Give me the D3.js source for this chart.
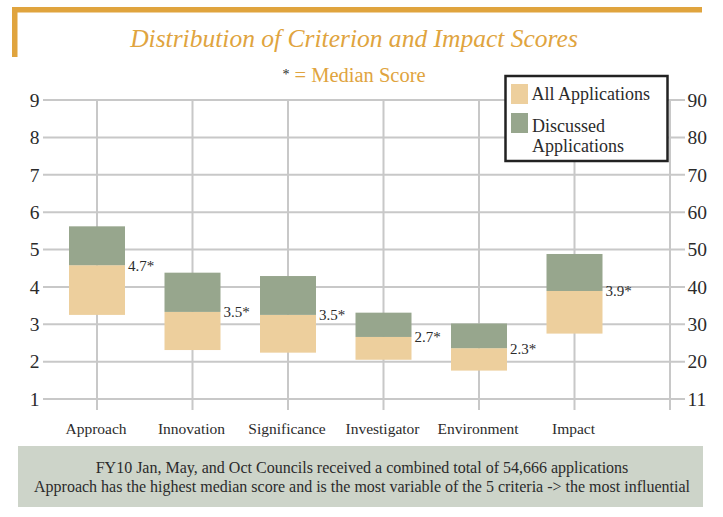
<!DOCTYPE html>
<html>
<head>
<meta charset="utf-8">
<script src="https://cdn.jsdelivr.net/npm/d3@7"></script>
<style>
  html, body { margin: 0; padding: 0; background: #ffffff; }
  svg { display: block; }
  svg text { font-family: "Liberation Serif", "Tinos", "Times New Roman", "DejaVu Serif", serif !important; }
</style>
</head>
<body>
<svg id="chart" width="723" height="517"></svg>
<script>
// ---- data ----
const categories = ["Approach", "Innovation", "Significance", "Investigator", "Environment", "Impact"];
const allLow      = [3.25, 2.31, 2.24, 2.05, 1.76, 2.75];   // bottom of "All Applications"
const medianScore = [4.58, 3.33, 3.25, 2.66, 2.36, 3.89];   // boundary between the two bands
const discussedHigh = [5.62, 4.38, 4.29, 3.31, 3.02, 4.88]; // top of "Discussed Applications"
const medianLabels = ["4.7*", "3.5*", "3.5*", "2.7*", "2.3*", "3.9*"];
const leftTicks  = [1, 2, 3, 4, 5, 6, 7, 8, 9];
const rightTickLabels = ["11", "20", "30", "40", "50", "60", "70", "80", "90"];
const footerLines = [
  "FY10 Jan, May, and Oct Councils received a combined total of 54,666 applications",
  "Approach has the highest median score and is the most variable of the 5 criteria -> the most influential"
];

// ---- styles ----
const gold = "#e0a43e";
const beige = "#edcf9d";
const green = "#97a68d";
const grid = "#c8c8c8";
const ink = "#2b2b2b";

const svg = d3.select("#chart");

// fit helper: scale font so the text spans a target width
function fitWidth(sel, target) {
  const node = sel.node();
  const w = node.getComputedTextLength();
  if (w > 0) {
    const fs = parseFloat(sel.attr("font-size"));
    sel.attr("font-size", fs * target / w);
  }
  return parseFloat(sel.attr("font-size"));
}

// decorative gold frame
svg.append("rect").attr("x", 12).attr("y", 7).attr("width", 690).attr("height", 5.5).attr("fill", gold);
svg.append("rect").attr("x", 12).attr("y", 7).attr("width", 5.5).attr("height", 50).attr("fill", gold);

// title
const title = svg.append("text").attr("x", 354).attr("y", 47).attr("text-anchor", "middle")
  .attr("font-style", "italic").attr("font-size", 25.5).attr("fill", gold)
  .text("Distribution of Criterion and Impact Scores");
fitWidth(title, 448);
const sub = svg.append("text").attr("x", 354).attr("y", 82).attr("text-anchor", "middle")
  .attr("font-size", 20.5).attr("fill", gold);
sub.append("tspan").attr("fill", ink).attr("font-size", 14).attr("dy", -3).text("*");
sub.append("tspan").attr("dy", 3).text(" = Median Score");

// scales
const y = d3.scaleLinear().domain([1, 9]).range([399, 100]);
const x = d3.scalePoint().domain(categories.concat(["_end"])).range([97, 670]);
const plotLeft = 43, plotRight = 685, vTop = 100, vBottom = 410;

// horizontal gridlines
svg.append("g").selectAll("line").data(leftTicks).join("line")
  .attr("x1", plotLeft).attr("x2", plotRight)
  .attr("y1", d => y(d)).attr("y2", d => y(d))
  .attr("stroke", grid).attr("stroke-width", 2);

// vertical gridlines
svg.append("g").selectAll("line").data(x.domain()).join("line")
  .attr("x1", d => x(d)).attr("x2", d => x(d))
  .attr("y1", vTop).attr("y2", vBottom)
  .attr("stroke", grid).attr("stroke-width", 2);

// left axis labels
const leftAxis = d3.axisLeft(y).tickValues(leftTicks).tickSize(0).tickPadding(0).tickFormat(d3.format("d"));
const gl = svg.append("g").attr("transform", `translate(39.5,0)`).call(leftAxis);
gl.select(".domain").remove();
gl.selectAll("text").attr("font-size", 19.5).attr("fill", ink);

// right axis labels
const rightAxis = d3.axisRight(y).tickValues(leftTicks).tickSize(0).tickPadding(0)
  .tickFormat((d, i) => rightTickLabels[i]);
const gr = svg.append("g").attr("transform", `translate(687.5,0)`).call(rightAxis);
gr.select(".domain").remove();
gr.selectAll("text").attr("font-size", 19.5).attr("fill", ink);

// bars
const barW = 56;
const bars = svg.append("g");
categories.forEach((c, i) => {
  bars.append("rect")
    .attr("x", x(c) - barW / 2).attr("width", barW)
    .attr("y", y(medianScore[i])).attr("height", y(allLow[i]) - y(medianScore[i]))
    .attr("fill", beige);
  bars.append("rect")
    .attr("x", x(c) - barW / 2).attr("width", barW)
    .attr("y", y(discussedHigh[i])).attr("height", y(medianScore[i]) - y(discussedHigh[i]))
    .attr("fill", green);
  bars.append("text")
    .attr("x", x(c) + barW / 2 + 3).attr("y", y(medianScore[i]) + 5.5)
    .attr("font-size", 15).attr("fill", ink)
    .text(medianLabels[i]);
});

// category labels
const xAxis = d3.axisBottom(x).tickValues(categories).tickSize(0).tickPadding(0);
const gx = svg.append("g").attr("transform", `translate(-1.5,422.5)`).call(xAxis);
gx.select(".domain").remove();
gx.selectAll("text").attr("font-size", 15.5).attr("fill", ink);

// legend
const lg = svg.append("g");
lg.append("rect").attr("x", 505.5).attr("y", 76).attr("width", 162).attr("height", 85)
  .attr("fill", "#ffffff").attr("stroke", "#222222").attr("stroke-width", 2.5);
lg.append("rect").attr("x", 511).attr("y", 84).attr("width", 17).attr("height", 20).attr("fill", beige);
lg.append("rect").attr("x", 511).attr("y", 113).attr("width", 17).attr("height", 20).attr("fill", green);
lg.append("text").attr("x", 531.5).attr("y", 100).attr("font-size", 18).attr("fill", ink).text("All Applications");
lg.append("text").attr("x", 532).attr("y", 131.5).attr("font-size", 18).attr("fill", ink).text("Discussed");
lg.append("text").attr("x", 532).attr("y", 151.5).attr("font-size", 18).attr("fill", ink).text("Applications");

// footer
svg.append("rect").attr("x", 18).attr("y", 446).attr("width", 685).attr("height", 61).attr("fill", "#cdd4c9");
const foot = svg.append("g").selectAll("text").data(footerLines).join("text")
  .attr("x", 362).attr("y", (d, i) => 472.5 + i * 19.5)
  .attr("text-anchor", "middle").attr("font-size", 16).attr("fill", ink)
  .text(d => d);
const fs2 = fitWidth(d3.select(foot.nodes()[1]), 656);
d3.select(foot.nodes()[0]).attr("font-size", fs2);
</script>
</body>
</html>
